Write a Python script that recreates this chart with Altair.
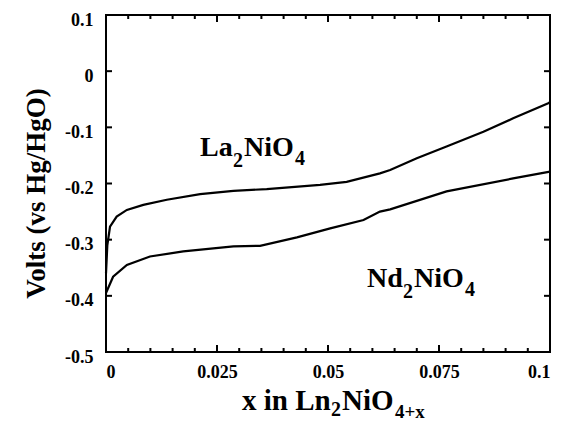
import altair as alt
import pandas as pd

# ---- data ----
la_x = [0.0, 0.0003, 0.0009, 0.0024, 0.0047, 0.0084, 0.0137, 0.0212, 0.0287, 0.0362,
        0.0482, 0.0542, 0.0617, 0.0640, 0.0700, 0.0767, 0.0850, 0.0917, 0.0996, 0.1]
la_y = [-0.36, -0.31, -0.277, -0.259, -0.247, -0.238, -0.229, -0.219, -0.213, -0.210,
        -0.2025, -0.197, -0.182, -0.176, -0.155, -0.134, -0.108, -0.084, -0.057, -0.055]
nd_x = [0.0, 0.0016, 0.0047, 0.0099, 0.0174, 0.0287, 0.0347, 0.0430, 0.0505, 0.0580,
        0.0617, 0.0640, 0.0767, 0.0917, 0.1]
nd_y = [-0.395, -0.366, -0.345, -0.330, -0.321, -0.312, -0.311, -0.296, -0.280, -0.265,
        -0.250, -0.246, -0.214, -0.191, -0.179]

x_label_values = [0, 0.025, 0.05, 0.075, 0.1]
x_minor_ticks = [0.005, 0.01, 0.015, 0.02, 0.03, 0.035, 0.04, 0.045, 0.055, 0.06,
                 0.065, 0.07, 0.08, 0.085, 0.09, 0.095]
y_label_values = [-0.5, -0.4, -0.3, -0.2, -0.1, 0, 0.1]

# ---- layout ----
W, H = 444, 337
FONT = "Liberation Serif"

df = pd.concat([
    pd.DataFrame({"series": "La2NiO4", "x": la_x, "y": la_y}),
    pd.DataFrame({"series": "Nd2NiO4", "x": nd_x, "y": nd_y}),
], ignore_index=True)

xscale = alt.Scale(domain=[0, 0.1], nice=False, zero=False)
yscale = alt.Scale(domain=[-0.5, 0.1], nice=False, zero=False)

x_axis = alt.Axis(values=x_label_values, labelExpr="'' + datum.value",
                  ticks=False, domain=False, grid=False, title=None,
                  labelFont=FONT, labelFontSize=18, labelFontWeight="bold",
                  labelColor="black", labelPadding=11)
y_axis = alt.Axis(values=y_label_values, labelExpr="'' + datum.value",
                  ticks=False, domain=False, grid=False,
                  title="Volts (vs Hg/HgO)", titleFont=FONT, titleFontSize=27,
                  titleFontWeight="bold", titleColor="black",
                  titleX=-70, titleY=178, titleBaseline="middle",
                  labelFont=FONT, labelFontSize=18, labelFontWeight="bold",
                  labelColor="black", labelPadding=13, labelOffset=5)

lines = alt.Chart(df).mark_line(color="black", strokeWidth=2.2).encode(
    x=alt.X("x:Q", scale=xscale, axis=x_axis),
    y=alt.Y("y:Q", scale=yscale, axis=y_axis),
    detail="series:N",
)


def xticks(values, y0, y1):
    return alt.Chart(alt.Data(values=[{"x": v} for v in values])).mark_rule(
        color="black", strokeWidth=2).encode(
        x=alt.X("x:Q", scale=xscale, axis=x_axis), y=alt.value(y0), y2=alt.value(y1))


def yticks(values, x0, x1):
    return alt.Chart(alt.Data(values=[{"y": v} for v in values])).mark_rule(
        color="black", strokeWidth=2).encode(
        y=alt.Y("y:Q", scale=yscale, axis=y_axis), x=alt.value(x0), x2=alt.value(x1))


def txt(s, x, y, size):
    return alt.Chart(alt.Data(values=[{}])).mark_text(
        text=s, font=FONT, fontSize=size, fontWeight="bold", color="black",
        align="left", baseline="alphabetic").encode(x=alt.value(x), y=alt.value(y))


ticks = [
    xticks(x_minor_ticks, H, H - 4), xticks(x_minor_ticks, 0, 4),
    xticks(x_label_values, H, H - 7), xticks(x_label_values, 0, 7),
    yticks(y_label_values, 0, 6), yticks(y_label_values, W, W - 6),
]

texts = [
    # La2NiO4
    txt("La", 94, 141, 28), txt("2", 127, 152, 20), txt("NiO", 138, 141, 28), txt("4", 189, 150, 20),
    # Nd2NiO4
    txt("Nd", 261, 272, 28), txt("2", 297, 283, 20), txt("NiO", 308, 272, 28), txt("4", 359, 281, 20),
    # x-axis title: x in Ln2NiO4+x
    txt("x in Ln", 136, 395, 29), txt("2", 225, 401, 20), txt("NiO", 236, 395, 29), txt("4+x", 289, 403, 19),
]

chart = alt.layer(lines, *ticks, *texts).properties(
    width=W, height=H,
    autosize=alt.AutoSizeParams(type="none"),
    padding={"left": 98, "top": 7, "right": 4, "bottom": 68},
).configure_view(stroke="black", strokeWidth=2)

chart.save("out.html", embed_options={"renderer": "svg", "actions": False})
